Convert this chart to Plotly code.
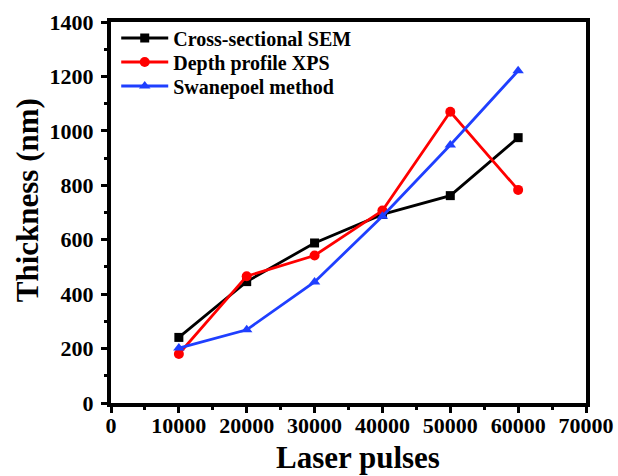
import plotly.graph_objects as go

# Number of laser pulses
pulses = [10000, 20000, 30000, 40000, 50000, 60000]

# Film thickness (nm) by measurement technique
sem_thickness = [241, 446, 588, 693, 762, 975]
xps_thickness = [180, 466, 542, 707, 1070, 783]
swanepoel_thickness = [202, 269, 445, 686, 948, 1221]

x_ticks = [0, 10000, 20000, 30000, 40000, 50000, 60000, 70000]
y_ticks = [0, 200, 400, 600, 800, 1000, 1200, 1400]

font_family = "Liberation Serif, Times New Roman, serif"

fig = go.Figure()
series = [
    ("Cross-sectional SEM", sem_thickness, "#000000", "square", 9, "legend", 0.958),
    ("Depth profile XPS", xps_thickness, "#ff0000", "circle", 10, "legend2", 0.895),
    ("Swanepoel method", swanepoel_thickness, "#1f3fff", "triangle-up", 10, "legend3", 0.832),
]
legend_layout = {}
for name, values, color, symbol, msize, legend_id, ly in series:
    fig.add_trace(go.Scatter(
        x=pulses, y=values, name=name, mode="lines+markers",
        line=dict(color=color, width=2.8),
        marker=dict(symbol=symbol, size=msize, color=color),
        legend=legend_id,
    ))
    legend_layout[legend_id] = dict(
        x=0.011, y=ly, xanchor="left", yanchor="middle",
        bgcolor="rgba(0,0,0,0)", itemwidth=47,
        font=dict(family=font_family, size=20, color="black", weight="bold"),
    )

axis_common = dict(
    showline=True, linewidth=4, linecolor="black", mirror=True,
    ticks="outside", ticklen=6, tickwidth=3, tickcolor="black",
    showgrid=False, zeroline=False, automargin=False,
    tickfont=dict(family=font_family, size=22, color="black", weight="bold"),
)

fig.update_xaxes(
    range=[0, 70000], tickvals=x_ticks, ticktext=[str(v) for v in x_ticks],
    minor=dict(ticks="outside", ticklen=3, tickwidth=2.5, tickcolor="black", dtick=5000),
    ticklabelstandoff=-6,
    **axis_common,
)
fig.update_yaxes(
    range=[0, 1400], tickvals=y_ticks, ticktext=[str(v) for v in y_ticks],
    minor=dict(ticks="outside", ticklen=3, tickwidth=2.5, tickcolor="black", dtick=100),
    ticklabelstandoff=3,
    **axis_common,
)

title_font = dict(family=font_family, size=31, color="black")
fig.add_annotation(
    text="<b>Laser pulses</b>", xref="paper", yref="paper", x=0.52, y=-0.143,
    xanchor="center", yanchor="middle", showarrow=False, font=title_font,
)
fig.add_annotation(
    text="<b>Thickness (nm)</b>", xref="paper", yref="paper", x=-0.177, y=0.532,
    xanchor="center", yanchor="middle", showarrow=False, textangle=-90, font=title_font,
)

fig.update_layout(
    width=618, height=476,
    margin=dict(l=111, r=32, t=22, b=73),
    plot_bgcolor="white", paper_bgcolor="white",
    showlegend=True,
    **legend_layout,
)

fig.write_html("out.html")
